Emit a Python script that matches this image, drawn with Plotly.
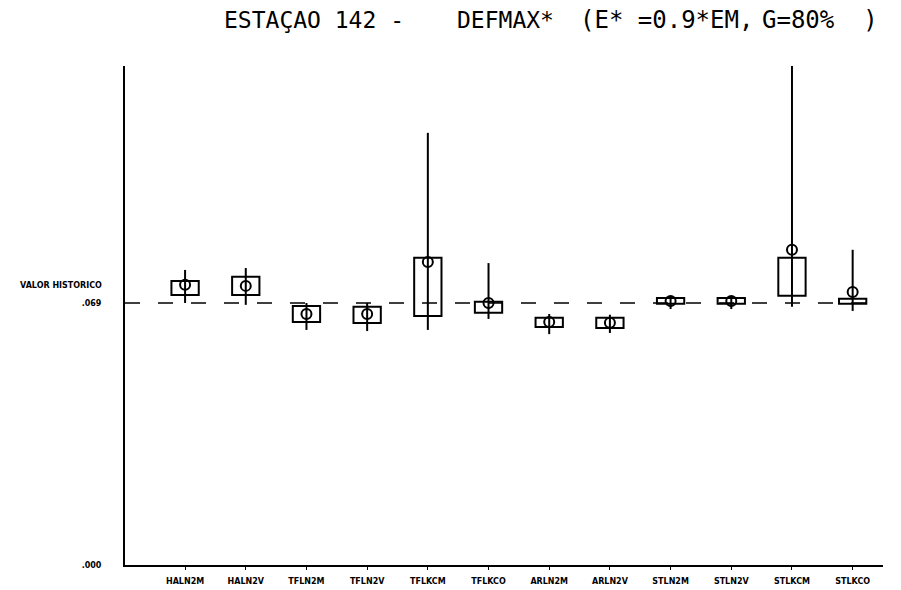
import plotly.graph_objects as go

categories = ["HALN2M", "HALN2V", "TFLN2M", "TFLN2V", "TFLKCM", "TFLKCO",
              "ARLN2M", "ARLN2V", "STLN2M", "STLN2V", "STLKCM", "STLKCO"]
whisker_low = [0.0690, 0.0685, 0.0619, 0.0616, 0.0619, 0.0648,
               0.0608, 0.0611, 0.0674, 0.0674, 0.0680, 0.0669]
box_low = [0.0711, 0.0711, 0.0640, 0.0637, 0.0656, 0.0664,
           0.0627, 0.0624, 0.0688, 0.0688, 0.0709, 0.0688]
box_high = [0.0748, 0.0759, 0.0682, 0.0680, 0.0809, 0.0693,
            0.0651, 0.0651, 0.0703, 0.0703, 0.0809, 0.0701]
whisker_high = [0.0777, 0.0782, 0.0690, 0.0690, 0.1138, 0.0795,
                0.0661, 0.0659, 0.0706, 0.0706, 0.1314, 0.0830]
circle_value = [0.0738, 0.0735, 0.0661, 0.0661, 0.0798, 0.0690,
                0.0640, 0.0638, 0.0695, 0.0695, 0.0830, 0.0719]
historic_value = 0.069
y_tick_values = [0.0, 0.069]
y_tick_labels = [".000", ".069"]
title_parts = ["ESTAÇAO 142 -", "DEFMAX*", "(E* =0.9*EM,", "G=80%  )"]

fig = go.Figure()

# boxes
fig.add_trace(go.Bar(
    x=categories,
    y=[h - l for h, l in zip(box_high, box_low)],
    base=box_low,
    width=0.45,
    marker=dict(color="rgba(0,0,0,0)", line=dict(color="black", width=2)),
    showlegend=False, hoverinfo="skip",
))

# whiskers
wx, wy = [], []
for c, lo, hi in zip(categories, whisker_low, whisker_high):
    wx += [c, c, None]
    wy += [lo, hi, None]
fig.add_trace(go.Scatter(x=wx, y=wy, mode="lines",
                         line=dict(color="black", width=2),
                         showlegend=False, hoverinfo="skip"))

# circles
fig.add_trace(go.Scatter(x=categories, y=circle_value, mode="markers",
                         marker=dict(symbol="circle-open", size=10,
                                     color="black", line=dict(width=2)),
                         showlegend=False))

# historic value dashed line
fig.add_shape(type="line", xref="paper", x0=0, x1=1,
              y0=historic_value, y1=historic_value,
              line=dict(color="black", width=1.5, dash="15px,18px"),
              layer="below")

fig.add_annotation(xref="paper", x=0, xanchor="right", xshift=-21,
                   y=0.0737, yref="y", text="VALOR HISTORICO",
                   showarrow=False,
                   font=dict(family="DejaVu Sans", size=8, color="black",
                             weight="bold"))

title_x = [222, 455, 578, 760]
title_sizes = [23, 23, 24, 24]
for txt, px, fs in zip(title_parts, title_x, title_sizes):
    fig.add_annotation(xref="paper", yref="paper",
                       x=(px - 125) / 758, xanchor="left",
                       y=1, yanchor="middle", yshift=46,
                       text=txt, showarrow=False,
                       font=dict(family="DejaVu Sans Mono", size=fs,
                                 color="black"))

fig.update_layout(
    width=901, height=590,
    margin=dict(l=125, r=18, t=66, b=25),
    plot_bgcolor="white", paper_bgcolor="white",
    xaxis=dict(
        range=[-0.99, 11.5], showgrid=False, zeroline=False,
        showline=True, linecolor="black", linewidth=2,
        ticks="outside", ticklen=3, tickcolor="black",
        tickfont=dict(family="DejaVu Sans", size=8, color="black",
                      weight="bold"),
        ticklabelstandoff=4, automargin=False,
    ),
    yaxis=dict(
        range=[0, 0.1314], showgrid=False, zeroline=False,
        showline=True, linecolor="black", linewidth=2,
        tickvals=y_tick_values, ticktext=y_tick_labels,
        ticks="", ticklabelstandoff=20, automargin=False,
        tickfont=dict(family="DejaVu Sans", size=8, color="black",
                      weight="bold"),
    ),
)

fig.write_html("out.html",
               config={"displayModeBar": False},
               post_script="document.body.style.margin='0';"
                           "document.body.style.overflow='hidden';")
